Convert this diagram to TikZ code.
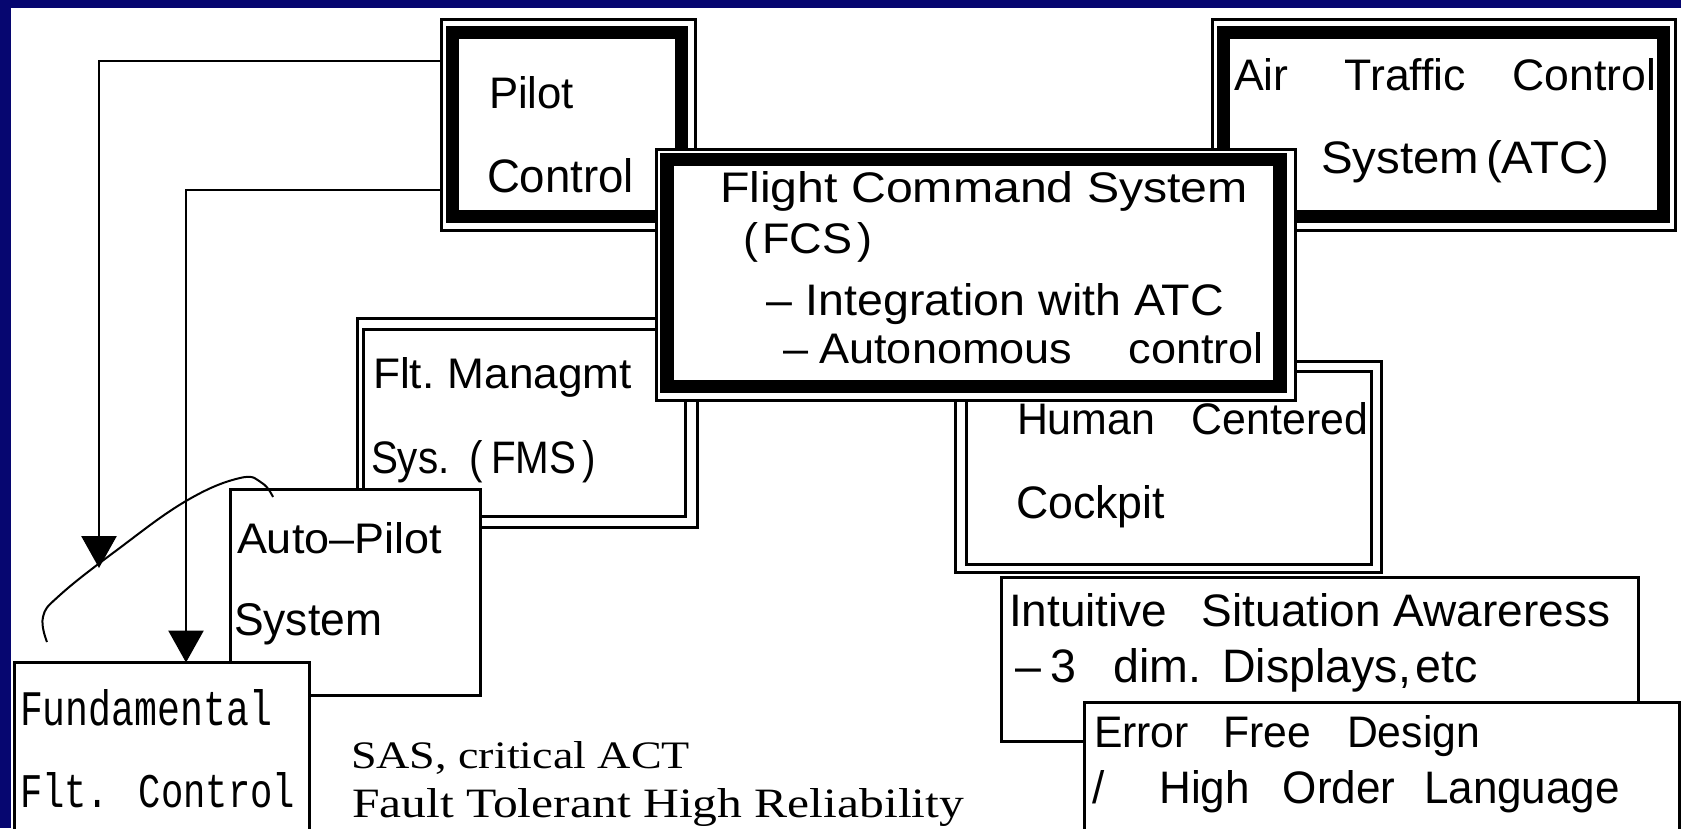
\documentclass[tikz,border=0pt]{standalone}
\usepackage{fontspec}
\setmainfont{Liberation Sans}
\newfontfamily\monofont{Liberation Mono}
\newfontfamily\seriffont{Liberation Serif}
\usepackage{graphicx}
\usetikzlibrary{arrows.meta}
\definecolor{navy}{RGB}{6,6,112}
\newcommand{\fitt}[3]{\resizebox{#1pt}{#2pt}{#3}}
\begin{document}
\begin{tikzpicture}[x=1pt,y=-1pt,
  txt/.style={anchor=base west, inner sep=0pt, outer sep=0pt, font=\fontsize{40pt}{40pt}\selectfont},
  mtxt/.style={txt, font=\monofont\fontsize{40pt}{40pt}\selectfont},
  stxt/.style={txt, font=\seriffont\fontsize{40pt}{40pt}\selectfont},
  box/.style={draw=black, line width=3pt, fill=white, inner sep=0pt, outer sep=0pt},
  band/.style={draw=black, line width=13pt},
  inner/.style={draw=black, line width=3pt},
  conn/.style={draw=black, line width=2.7pt, -{Triangle[length=32pt,width=35pt]}},
  loopcurve/.style={draw=black, line width=2pt}]
\useasboundingbox (0,0) rectangle (1681,828);
\clip (0,0) rectangle (1681,828);
% background
\fill[navy] (0,0) rectangle (1681,828);
\fill[white] (11,8) rectangle (1681,828);

% Flt. Management System (double border)
\node[box, minimum width=340pt, minimum height=209pt] (fms) at (527.5,423) {};
\draw[inner] (363.5,329.5) rectangle (685.5,516.5);
\node[txt] (tfms1) at (373,388) {\fitt{259}{31}{Flt.\hspace{0.3em}Managmt}};
\node[txt] (tfms2) at (371,473) {\fitt{225}{33}{Sys.\hspace{0.5em}(\hspace{0.2em}FMS\hspace{0.15em})}};

% Pilot Control
\node[box, minimum width=254pt, minimum height=211pt] (pilot) at (568.5,125) {};
\draw[band] (452.5,32) rectangle (681,216);
\node[txt] (tpil1) at (489,108) {\fitt{85}{32}{Pilot}};
\node[txt] (tpil2) at (487,192) {\fitt{147}{34}{Control}};

% Air Traffic Control
\node[box, minimum width=463pt, minimum height=211pt] (atc) at (1444,125) {};
\draw[band] (1223.5,32) rectangle (1663.5,216);
\node[txt] (tatc1) at (1234,90) {\fitt{422}{32}{Air\hspace{1.26em}Traffic\hspace{1.04em}Control}};
\node[txt] (tatc2) at (1321,173) {\fitt{288}{33}{System\hspace{0.15em}(ATC)}};

% Human Centered Cockpit (double border)
\node[box, minimum width=426pt, minimum height=211pt] (human) at (1168.5,467) {};
\draw[inner] (966.5,371.5) rectangle (1371.5,564.5);
\node[txt] (thum1) at (1017,434) {\fitt{351}{32}{Human\hspace{0.85em}Centered}};
\node[txt] (thum2) at (1016,518) {\fitt{149}{33}{Cockpit}};

% Flight Command System
\node[box, minimum width=639pt, minimum height=251pt] (fcs) at (976,275) {};
\draw[band, line width=13.5pt] (667,159.5) rectangle (1280,386.5);
\node[txt] (tfcs1) at (720,202) {\fitt{528}{31}{Flight Command System}};
\node[txt] (tfcs2) at (743,253) {\fitt{129}{31}{(\hspace{0.1em}FCS\hspace{0.1em})}};
\node[txt] (tfcs3) at (766,315) {\fitt{458}{32}{–\hspace{0.3em}Integration with ATC}};
\node[txt] (tfcs4) at (783,363) {\fitt{481}{31}{–\hspace{0.25em}Autonomous\hspace{1.25em}control}};

% Auto-Pilot System
\node[box, minimum width=250pt, minimum height=206pt] (ap) at (355.5,592.5) {};
\node[txt] (tap1) at (237,553) {\fitt{205}{31}{Auto–Pilot}};
\node[txt] (tap2) at (234,635) {\fitt{148}{32}{System}};

% Fundamental Flt. Control
\node[box, minimum width=295pt, minimum height=237.5pt] (fund) at (162,781.25) {};
\node[mtxt] (tfun1) at (20,725) {\fitt{252}{36}{Fundamental}};
\node[mtxt] (tfun2) at (20,807) {\fitt{275}{35}{Flt. Control}};

% SAS text
\node[stxt] (tsas) at (351,768) {\fitt{339}{27}{SAS, critical ACT}};
\node[stxt] (tfault) at (352,817) {\fitt{612}{29}{Fault Tolerant High Reliability}};

% Intuitive Situation Awareness
\node[box, minimum width=637pt, minimum height=164pt] (intu) at (1320,659.5) {};
\node[txt] (tint1) at (1009,626) {\fitt{601}{33}{Intuitive\hspace{0.75em}Situation Awareress}};
\node[txt] (tint2) at (1015,682) {\fitt{463}{34}{–\hspace{0.2em}3\hspace{0.8em}dim.\hspace{0.45em}Displays,\hspace{0.1em}etc}};

% Error Free Design
\node[box, minimum width=595pt, minimum height=197.5pt] (err) at (1382,801.25) {};
\node[txt] (terr1) at (1094,747) {\fitt{386}{32}{Error\hspace{0.8em}Free\hspace{0.85em}Design}};
\node[txt] (terr2) at (1092,803) {\fitt{528}{33}{/\hspace{1.25em}High\hspace{0.75em}Order\hspace{0.65em}Language}};

% connectors
\coordinate (ovTip) at (99,568);
\draw[conn] (pilot.west |- 0,61) -| (ovTip);
\draw[conn] (pilot.west |- 0,190) -| (fund.north -| 186,0);

% loop curve
\draw[loopcurve] plot[smooth, tension=0.7] coordinates {(47,642) (43,617) (60,595) (117,550) (186,501) (240,478) (262,483) (273,497)};
\end{tikzpicture}
\end{document}
